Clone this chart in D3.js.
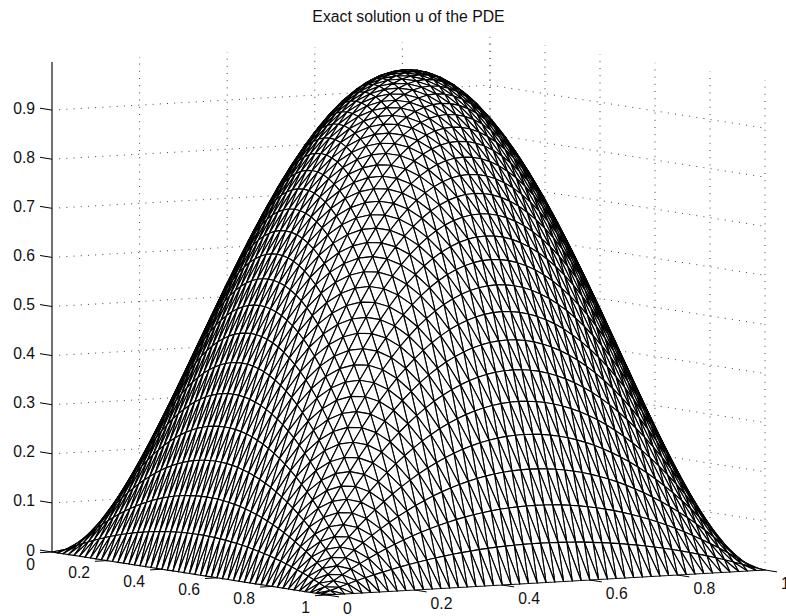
<!DOCTYPE html>
<html><head><meta charset="utf-8">
<script src="https://cdn.jsdelivr.net/npm/d3@7"></script>
<style>html,body{margin:0;padding:0;background:#fff}svg{display:block}text{font-family:"Liberation Sans",Arial,sans-serif;fill:#111}</style>
</head><body><svg id="c" width="786" height="616"></svg>
<script>
const titleText = "Exact solution u of the PDE";
const planeTicks = [0,0.2,0.4,0.6,0.8,1];
const planeTickLabels = ["0","0.2","0.4","0.6","0.8","1"];
const heightTicks = [0,0.1,0.2,0.3,0.4,0.5,0.6,0.7,0.8,0.9];
const heightTickLabels = ["0","0.1","0.2","0.3","0.4","0.5","0.6","0.7","0.8","0.9"];
const heightMax = 0.998;
// cross-section of the surface read along the mesh nodes (51 nodes per side)
const nodes = [0,0.02,0.04,0.06,0.08,0.1,0.12,0.14,0.16,0.18,0.2,0.22,0.24,0.26,0.28,0.3,0.32,0.34,0.36,0.38,0.4,0.42,0.44,0.46,0.48,0.5,0.52,0.54,0.56,0.58,0.6,0.62,0.64,0.66,0.68,0.7,0.72,0.74,0.76,0.78,0.8,0.82,0.84,0.86,0.88,0.9,0.92,0.94,0.96,0.98,1];
const profile = [0,0.0784,0.1536,0.2256,0.2944,0.36,0.4224,0.4816,0.5376,0.5904,0.64,0.6864,0.7296,0.7696,0.8064,0.84,0.8704,0.8976,0.9216,0.9424,0.96,0.9744,0.9856,0.9936,0.9984,1,0.9984,0.9936,0.9856,0.9744,0.96,0.9424,0.9216,0.8976,0.8704,0.84,0.8064,0.7696,0.7296,0.6864,0.64,0.5904,0.5376,0.4816,0.4224,0.36,0.2944,0.2256,0.1536,0.0784,0];

const svg = d3.select("#c");
// oblique projection built from linear scales
const ux = d3.scaleLinear([0,1],[0,275]), uy = d3.scaleLinear([0,1],[0,43]);
const vx = d3.scaleLinear([0,1],[52,490]), vy = d3.scaleLinear([0,1],[552,527]);
const zy = d3.scaleLinear([0,1],[0,-491]);
const P = (u,v,z)=>[ux(u)+vx(v), uy(u)+vy(v)+zy(z)];
const line = d3.line();

// grid on the back walls
const grid = svg.append("g").attr("fill","none").attr("stroke","#444").attr("stroke-width",1).attr("stroke-dasharray","1 6.2");
const gridPaths = [];
heightTicks.forEach(z=>{ gridPaths.push([P(0,0,z),P(0,1,z)]); gridPaths.push([P(0,1,z),P(1,1,z)]); });
planeTicks.forEach(t=>{ gridPaths.push([P(0,t,0),P(0,t,heightMax)]); gridPaths.push([P(t,1,0),P(t,1,heightMax)]); });
grid.selectAll("path").data(gridPaths).join("path").attr("d",line);

// z axis
svg.append("path").attr("d",line([P(0,0,0),P(0,0,heightMax)])).attr("stroke","#707070").attr("stroke-width",2).attr("fill","none");

// surface: painter's order, far corner first
const n = nodes.length-1, tris=[];
for(let i=0;i<n;i++) for(let j=n-1;j>=0;j--){
  const c=(a,b)=>P(nodes[a],nodes[b],profile[a]*profile[b]);
  tris.push([c(i,j),c(i+1,j+1),c(i,j+1)]);
  tris.push([c(i,j),c(i+1,j),c(i+1,j+1)]);
}
svg.append("g").attr("fill","#fff").attr("stroke","#000").attr("stroke-width",1.15).attr("stroke-linejoin","round")
  .selectAll("path").data(tris).join("path").attr("d",d=>line(d)+"Z");

// ticks
const ticks = svg.append("g").attr("stroke","#000").attr("stroke-width",1).attr("fill","none");
const tk = (a,dx,dy)=>[a,[a[0]+dx,a[1]+dy]];
const tickSegs = [];
heightTicks.forEach(z=>tickSegs.push(tk(P(0,0,z),-12,-1.9)));
planeTicks.forEach(t=>tickSegs.push(tk(P(t,0,0),-12,0.7)));
planeTicks.forEach(t=>tickSegs.push(tk(P(1,t,0),12,1.9)));
ticks.selectAll("path").data(tickSegs).join("path").attr("d",line);

// labels
const fs = 15.7;
const lab = svg.append("g").attr("font-size",fs);
lab.selectAll(".z").data(heightTicks).join("text").attr("class","z")
  .attr("x",35).attr("y",z=>P(0,0,z)[1]+3.5).attr("text-anchor","end").text((z,i)=>heightTickLabels[i]);
lab.selectAll(".u").data(planeTicks).join("text").attr("class","u")
  .attr("x",t=>P(t,0,0)[0]-17).attr("y",t=>P(t,0,0)[1]+17.5).attr("text-anchor","end").text((t,i)=>planeTickLabels[i]);
lab.selectAll(".v").data(planeTicks).join("text").attr("class","v")
  .attr("x",t=>P(1,t,0)[0]+16).attr("y",t=>P(1,t,0)[1]+18.5).attr("text-anchor","start").text((t,i)=>planeTickLabels[i]);
svg.append("text").attr("x",408.5).attr("y",21.5).attr("text-anchor","middle").attr("font-size",15.8).text(titleText);
</script></body></html>
